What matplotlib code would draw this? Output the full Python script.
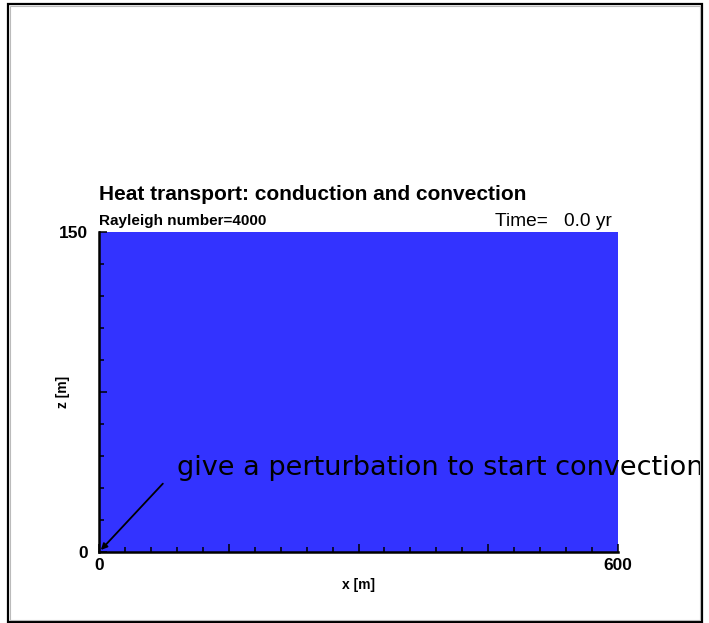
"""
Heat transport: conduction and convection - initial state (t = 0).
"""

import matplotlib
matplotlib.use("Agg")
import matplotlib.pyplot as plt
from matplotlib.patches import Rectangle
from matplotlib.ticker import MultipleLocator, FuncFormatter

# Domain and state
x_range = [0, 600]          # m
z_range = [0, 150]          # m
x_labeled = [0, 600]
z_labeled = [0, 150]
rayleigh = 4000
time_yr = 0.0
perturb_point = (0, 0)
perturb_text_pos = (90, 36)
perturb_arrow_start = (76, 33)
field_color = '#3333ff'

fig = plt.figure(figsize=(7.09, 6.23), dpi=100)
W, H = 709, 623

ax = fig.add_axes([99 / W, 1 - 552 / H, (618 - 99) / W, (552 - 232) / H])
ax.set_xlim(*x_range)
ax.set_ylim(*z_range)

# temperature field: uniform at t = 0
ax.fill_between(x_range, z_range[0], z_range[1], color=field_color, lw=0)

for s in ['top', 'right']:
    ax.spines[s].set_visible(False)
for s in ['left', 'bottom']:
    ax.spines[s].set_linewidth(1.8)

ax.xaxis.set_major_locator(MultipleLocator(150))
ax.xaxis.set_minor_locator(MultipleLocator(30))
ax.yaxis.set_major_locator(MultipleLocator(75))
ax.yaxis.set_minor_locator(MultipleLocator(15))
ax.xaxis.set_major_formatter(FuncFormatter(lambda v, p: f"{v:.0f}" if v in x_labeled else ""))
ax.yaxis.set_major_formatter(FuncFormatter(lambda v, p: f"{v:.0f}" if v in z_labeled else ""))
ax.tick_params(which='both', direction='in', width=1.1, top=False, right=False,
               labelsize=12.5)
ax.tick_params(which='major', length=6)
ax.tick_params(which='minor', length=3.5)
ax.tick_params(axis='x', pad=4)
ax.tick_params(axis='y', pad=8)
for lab in ax.get_xticklabels() + ax.get_yticklabels():
    lab.set_fontfamily('Liberation Sans')
    lab.set_fontweight('bold')

ax.set_xlabel('x [m]', fontsize=10, fontweight='bold', family='Liberation Sans', labelpad=4)
ax.set_ylabel('z [m]', fontsize=10, fontweight='bold', family='Liberation Sans', labelpad=-8)

# titles
fig.text(99 / W, 1 - 200 / H, 'Heat transport: conduction and convection',
         fontsize=15, fontweight='bold', family='Liberation Sans', va='baseline')
fig.text(99 / W, 1 - 225 / H, f'Rayleigh number={rayleigh}',
         fontsize=11, fontweight='bold', family='Liberation Sans', va='baseline')
fig.text(612 / W, 1 - 226 / H, f'Time=   {time_yr:.1f} yr',
         fontsize=13.8, family='Liberation Sans', ha='right', va='baseline')

# frame around the figure
frame = Rectangle((8 / W, 1 - 622 / H), (702 - 8) / W, (622 - 4) / H,
                  transform=fig.transFigure, fill=False, ec='black', lw=1.6, zorder=10)
fig.add_artist(frame)
inner = Rectangle((10 / W, 1 - 620 / H), (700 - 10) / W, (620 - 6) / H,
                  transform=fig.transFigure, fill=False, ec='#bbbbbb', lw=0.8, zorder=10)
fig.add_artist(inner)

# perturbation note
ax.annotate('', xy=perturb_point, xytext=perturb_arrow_start,
            arrowprops=dict(arrowstyle='-|>', color='black', lw=1.3, mutation_scale=9),
            annotation_clip=False)
ax.text(perturb_text_pos[0], perturb_text_pos[1],
        'give a perturbation to start convection',
        fontsize=19.5, family='DejaVu Sans', va='baseline', clip_on=False, zorder=11)

fig.savefig('out.png', dpi=100)
